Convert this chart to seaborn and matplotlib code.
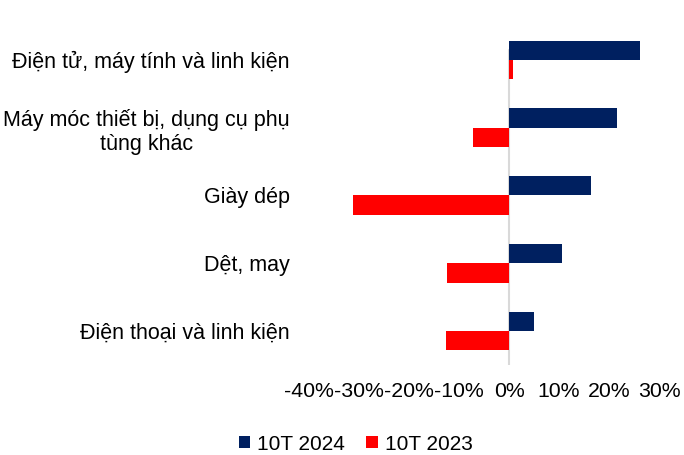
import pandas as pd
import matplotlib
matplotlib.use("Agg")
import matplotlib.pyplot as plt
import seaborn as sns

# data (% growth)
categories = [
    "Điện tử, máy tính và linh kiện",
    "Máy móc thiết bị, dụng cụ phụ\ntùng khác",
    "Giày dép",
    "Dệt, may",
    "Điện thoại và linh kiện",
]
val_2024 = [26.1, 21.5, 16.4, 10.5, 4.9]
val_2023 = [0.7, -7.2, -31.2, -12.5, -12.7]
series = ["10T 2024", "10T 2023"]
xticks = [-40, -30, -20, -10, 0, 10, 20, 30]

df = pd.DataFrame({
    "cat": categories * 2,
    "value": val_2024 + val_2023,
    "series": [series[0]] * len(categories) + [series[1]] * len(categories),
})

sns.set_style("white")
plt.rcParams["font.family"] = ["Liberation Sans", "DejaVu Sans"]
plt.rcParams["text.color"] = "black"
plt.rcParams["xtick.color"] = "black"
plt.rcParams["ytick.color"] = "black"

fig = plt.figure(figsize=(6.84, 4.55), dpi=100)
ax = fig.add_axes([0.4518, 0.198, 0.9635 - 0.4518, 0.943 - 0.198])

sns.barplot(data=df, y="cat", x="value", hue="series", orient="h",
            palette={"10T 2024": "#002060", "10T 2023": "#FF0000"},
            saturation=1, width=0.57, linewidth=0, ax=ax, legend=True)

ax.plot([0, 0], [0.93, 0.0], transform=ax.get_xaxis_transform(),
        color="#D9D9D9", lw=1.5, zorder=0)
ax.set_xlim(-40, 30)
ax.set_ylim(4.5, -0.5)
ax.set_xticks(xticks)
ax.set_xticklabels([f"{t}%" for t in xticks], fontsize=15.3)
ax.tick_params(axis="x", length=0, pad=12)
ax.tick_params(axis="y", length=0, pad=14, labelsize=15.5)
for lbl in ax.get_yticklabels():
    lbl.set_multialignment("center")
ax.set_xlabel("")
ax.set_ylabel("")
for s in ax.spines.values():
    s.set_visible(False)

handles, labels = ax.get_legend_handles_labels()
ax.get_legend().remove()
fig.legend(handles, labels, loc="center", bbox_to_anchor=(0.52, 0.024),
           ncol=2, frameon=False, fontsize=15, handlelength=0.55,
           handleheight=0.55, columnspacing=1.0, handletextpad=0.35)

fig.savefig("out.png", dpi=100)
